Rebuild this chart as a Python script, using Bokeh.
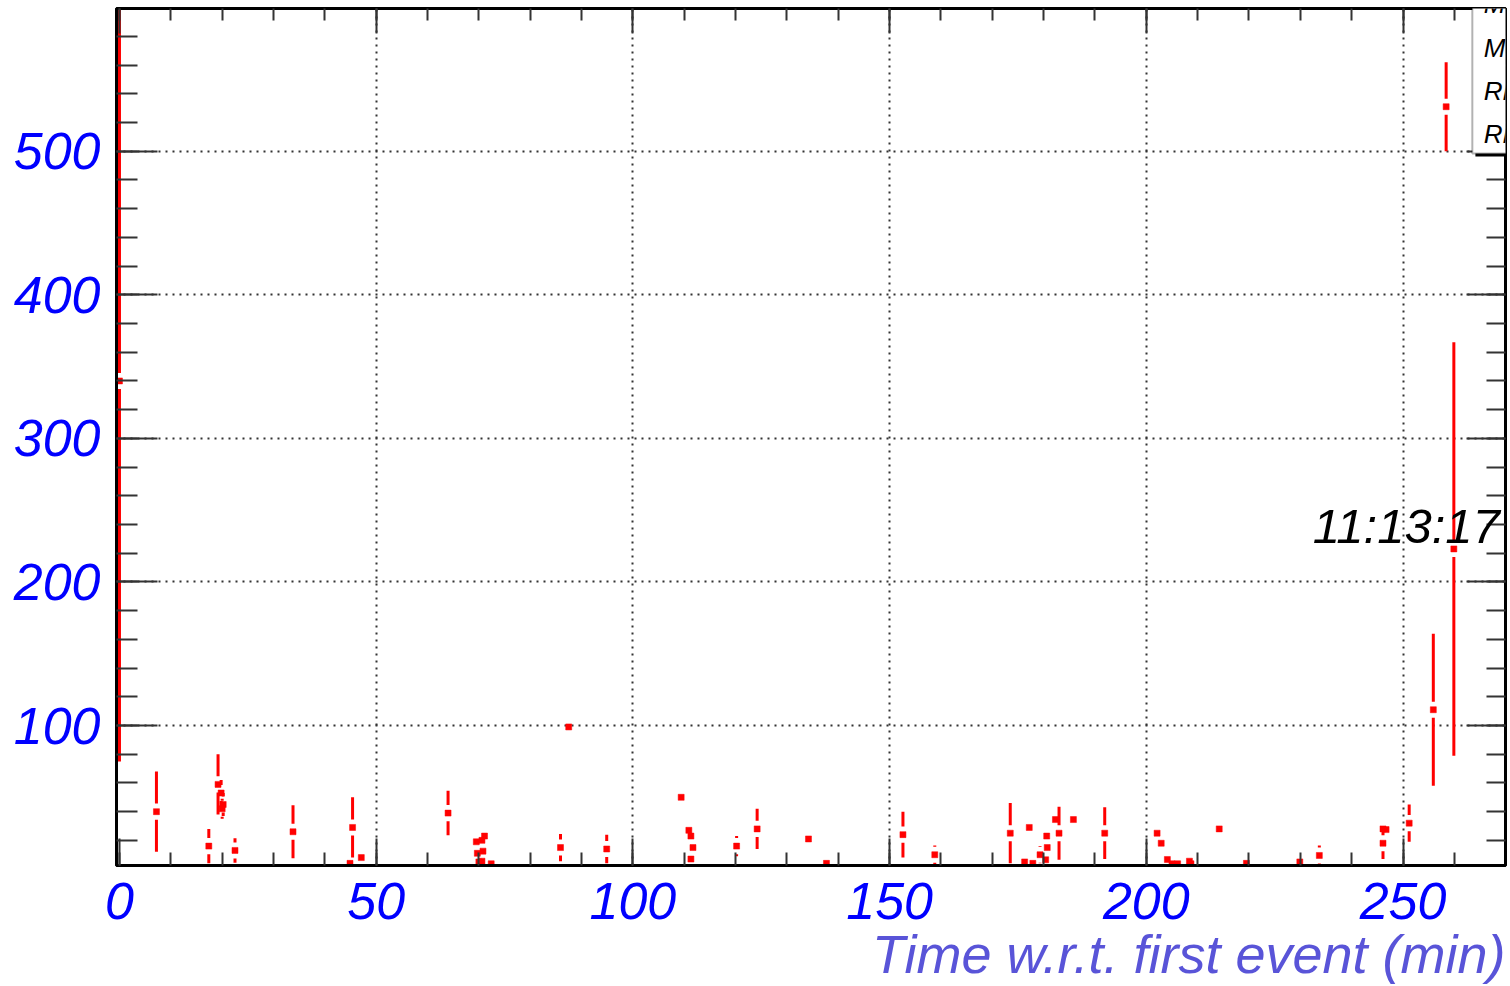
import numpy as np
from bokeh.plotting import figure
from bokeh.models import (LinearAxis, SingleIntervalTicker, FixedTicker, Label,
                          BoxAnnotation, Range1d, ColumnDataSource, Title,
                          CustomLabelingPolicy)
from bokeh.embed import file_html
from bokeh.resources import INLINE

# ---- data ----
t_min = [0.0, 7.2, 17.4, 19.2, 19.8, 20.2, 20.0, 22.5, 33.8, 44.9, 45.4, 47.1, 64.0,
         69.5, 69.7, 70.0, 70.6, 70.6, 70.8, 71.1, 72.4, 85.9, 87.5, 94.9,
         109.4, 110.9, 111.3, 111.7, 111.3, 120.2, 124.2, 134.2, 137.7,
         152.6, 158.8, 173.5, 176.3, 177.2, 177.9, 179.3, 180.4, 180.6, 180.7,
         182.3, 183.0, 185.8, 191.9, 202.1, 202.9, 204.1, 205.0, 206.1, 208.4,
         208.7, 214.2, 219.5, 229.9, 233.7, 246.1, 246.7, 246.1, 251.2,
         255.9, 258.4, 259.9]
rate = [340, 40, 16, 59, 53, 45, 42, 13, 26, 4, 29, 8, 39,
        19, 11, 5, 20, 5.5, 12.5, 23, 3.7, 15, 99, 14,
        50, 27, 23, 15, 7, 16, 28, 21, 4,
        24, 10, 25, 5, 29, 4, 10, 6.5, 23, 15,
        34.5, 25, 34.5, 25, 25, 18, 6.7, 3.7, 3.7, 5.5,
        3.7, 28, 4, 5, 9.5, 28, 27.5, 18, 32,
        111, 531, 223]
rate_err = [265, 28, 12, 21, 9, 8, 7, 8.5, 18.5, 0, 21, 0, 15.5,
            0, 0, 0, 0, 0, 0, 0, 0, 9.5, 0, 10,
            0, 0, 0, 0, 0, 7, 14, 0, 0,
            16, 6.5, 21, 0, 0, 0, 6, 0, 0, 0,
            0, 18.5, 0, 18, 0, 0, 0, 0, 0, 0,
            0, 0, 0, 0, 7, 0, 0, 11, 13,
            53, 31, 144]

x_ticks_major = 50
y_ticks_major = 100
grid_x = [50, 100, 150, 200, 250]
grid_y = [100, 200, 300, 400, 500]
stats_rows = ["Mean x", "Mean y", "RMS x", "RMS y"]
stamp = "11:13:17"
x_title = "Time w.r.t. first event (min)"

# ---- figure ----
W, H = 1510, 986
p = figure(width=W, height=H, output_backend="svg", toolbar_location=None,
           x_range=Range1d(-0.58, 269.96), y_range=Range1d(2.5, 599.4),
           min_border_left=116, min_border_right=5, min_border_top=8,
           min_border_bottom=121, background_fill_color="white",
           border_fill_color="white")
p.outline_line_color = "black"
p.outline_line_width = 3

FONT = "Liberation Sans"
LBL_SIZE = "52px"

def style_axis(ax, major_in, minor_in, show_labels):
    ax.axis_line_width = 3
    ax.axis_line_color = "black"
    ax.major_tick_in = major_in
    ax.major_tick_out = 0
    ax.minor_tick_in = minor_in
    ax.minor_tick_out = 0
    ax.major_tick_line_width = 2
    ax.minor_tick_line_width = 2
    ax.major_tick_line_color = "#333333"
    ax.minor_tick_line_color = "#333333"
    if show_labels:
        ax.major_label_text_font = FONT
        ax.major_label_text_font_style = "italic"
        ax.major_label_text_font_size = LBL_SIZE
        ax.major_label_text_color = "#0000ff"
    else:
        ax.major_label_text_font_size = "1px"
        ax.major_label_standoff = 0
        ax.major_label_policy = CustomLabelingPolicy(code="return []")

xax = p.xaxis[0]
xax.ticker = SingleIntervalTicker(interval=x_ticks_major, num_minor_ticks=5)
style_axis(xax, 27, 13, True)
xax.major_label_standoff = 17

yax = p.yaxis[0]
yax.ticker = SingleIntervalTicker(interval=y_ticks_major, num_minor_ticks=5)
style_axis(yax, 41, 21, True)
yax.major_label_standoff = 16

top = LinearAxis(ticker=SingleIntervalTicker(interval=x_ticks_major, num_minor_ticks=5))
style_axis(top, 25, 12, False)
p.add_layout(top, "above")
right = LinearAxis(ticker=SingleIntervalTicker(interval=y_ticks_major, num_minor_ticks=5))
style_axis(right, 39, 19, False)
p.add_layout(right, "right")

p.xgrid.ticker = FixedTicker(ticks=grid_x)
p.ygrid.ticker = FixedTicker(ticks=grid_y)
for g in (p.xgrid[0], p.ygrid[0]):
    g.grid_line_color = "#333333"
    g.grid_line_dash = "2 5"
    g.grid_line_width = 2

# ---- x title, right aligned under the axis ----
p.add_layout(Title(text=x_title, align="right", text_font=FONT,
                   text_font_style="italic", text_font_size="54px",
                   text_color="#5954d8", standoff=1, offset=0), "below")

# ---- error bars with a gap round the marker ----
x = np.array(t_min, dtype=float)
y = np.array(rate, dtype=float)
e = np.array(rate_err, dtype=float)
gap = 5.6
m = e > gap
src_lo = ColumnDataSource(dict(x=x[m], y0=(y - e)[m], y1=(y - gap)[m]))
src_hi = ColumnDataSource(dict(x=x[m], y0=(y + gap)[m], y1=(y + e)[m]))
for s in (src_lo, src_hi):
    p.segment(x0="x", y0="y0", x1="x", y1="y1", source=s,
              line_color="#ff0000", line_width=3)
p.scatter(x, y, marker="square", size=6, fill_color="#ff0000",
          line_color="#ff0000", line_width=0.5)

# ---- time stamp ----
p.add_layout(Label(x=232.4, y=239.3, text=stamp, text_font=FONT,
                   text_font_style="italic", text_font_size="49px",
                   text_color="black", text_baseline="alphabetic"))

# ---- stats box (runs off the right edge, as in the original) ----
p.add_layout(BoxAnnotation(left=264.1, right=290, bottom=496.3, top=700,
                           fill_color="black", fill_alpha=1, line_alpha=0))
p.add_layout(BoxAnnotation(left=263.5, right=290, bottom=498.4, top=700,
                           fill_color="white", fill_alpha=1,
                           line_color="black", line_width=2))
for i, r in enumerate(stats_rows):
    p.add_layout(Label(x=265.7, y=602.2 - 30.0 * i, text=r, text_font=FONT,
                       text_font_style="italic", text_font_size="26px",
                       text_color="black", text_baseline="middle"))

open("out.html", "w").write(file_html(p, INLINE))
